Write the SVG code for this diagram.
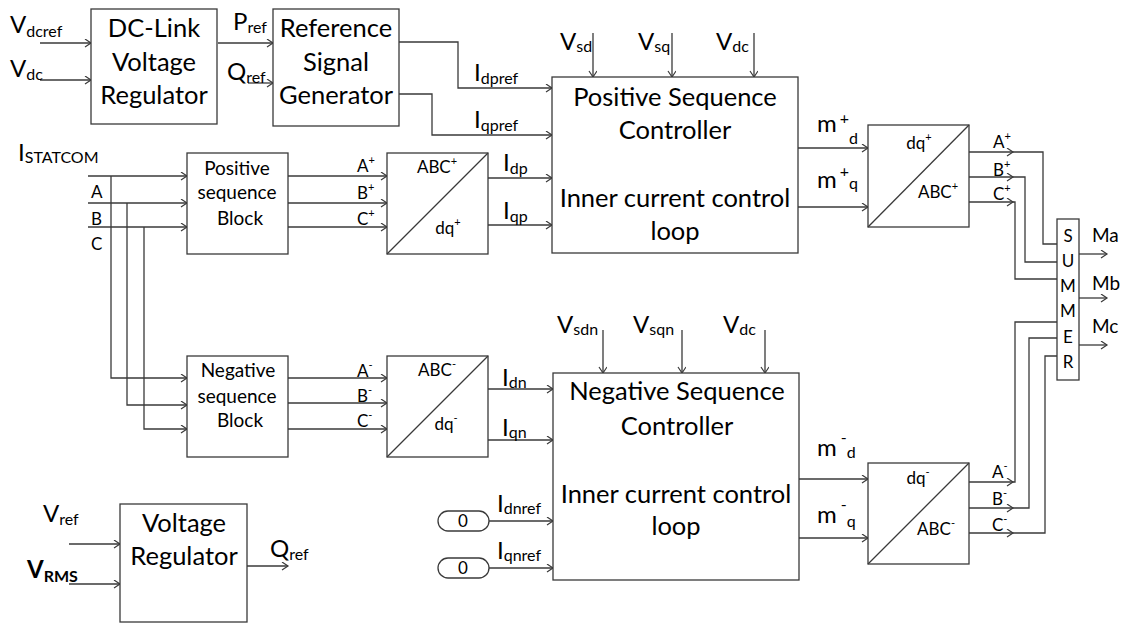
<svg xmlns="http://www.w3.org/2000/svg" width="1130" height="623" viewBox="0 0 1130 623">
<style>
.l{fill:none;stroke:#3a3a3a;stroke-width:1.3}
.a{marker-end:url(#ar)}
.b{fill:#fff;stroke:#3a3a3a;stroke-width:1.3}
text{font-family:Lato,"Liberation Sans",sans-serif;fill:#000}
.big{font-size:25.5px;text-anchor:middle}
.sm{font-size:19px;text-anchor:middle}
.lab{font-size:24px}
.s{font-size:16px}
.k{font-size:17px}
.c{text-anchor:middle}
</style>
<defs>
<marker id="ar" markerUnits="userSpaceOnUse" markerWidth="10" markerHeight="10" refX="7" refY="4" orient="auto">
<path d="M1,0 L7,4 L1,8" fill="none" stroke="#3a3a3a" stroke-width="1.2"/>
</marker>
</defs>
<rect width="1130" height="623" fill="#fff"/>

<g id="connectors">
<path class="l a" d="M40,43 H91"/>
<path class="l a" d="M40,80 H91"/>
<path class="l a" d="M218,43 H273"/>
<path class="l a" d="M248,83 H273"/>
<path class="l a" d="M399,42 H458 V88 H552"/>
<path class="l a" d="M399,94 H432 V135 H552"/>
<path class="l a" d="M593,33 V77"/>
<path class="l a" d="M672,33 V77"/>
<path class="l a" d="M754,33 V77"/>
<path class="l a" d="M88,176 H187"/>
<path class="l a" d="M88,203 H187"/>
<path class="l a" d="M88,227 H187"/>
<path class="l a" d="M111,176 V378 H187"/>
<path class="l a" d="M127,203 V405 H187"/>
<path class="l a" d="M144,227 V429 H187"/>
<path class="l a" d="M288,176 H387"/>
<path class="l a" d="M288,203 H387"/>
<path class="l a" d="M288,227 H387"/>
<path class="l a" d="M288,378 H387"/>
<path class="l a" d="M288,403 H387"/>
<path class="l a" d="M288,429 H387"/>
<path class="l a" d="M488,178 H552"/>
<path class="l a" d="M488,225 H552"/>
<path class="l a" d="M488,389 H553"/>
<path class="l a" d="M488,440 H553"/>
<path class="l a" d="M489,521 H553"/>
<path class="l a" d="M489,568 H553"/>
<path class="l a" d="M603,330 V373"/>
<path class="l a" d="M682,330 V373"/>
<path class="l a" d="M765,330 V373"/>
<path class="l a" d="M798,148 H868"/>
<path class="l a" d="M798,207 H868"/>
<path class="l a" d="M799,479 H868"/>
<path class="l a" d="M799,538 H868"/>
<path class="l a" d="M969,152 H1013"/>
<path class="l" d="M1013,152 H1043 V244 H1057"/>
<path class="l a" d="M969,177 H1013"/>
<path class="l" d="M1013,177 H1025 V262 H1057"/>
<path class="l a" d="M969,202 H1013"/>
<path class="l" d="M1013,202 H1015 V279 H1057"/>
<path class="l a" d="M969,482 H1013"/>
<path class="l" d="M1013,482 H1015 V322 H1057"/>
<path class="l a" d="M969,508 H1013"/>
<path class="l" d="M1013,508 H1029 V338 H1057"/>
<path class="l a" d="M969,533 H1013"/>
<path class="l" d="M1013,533 H1045 V356 H1057"/>
<path class="l a" d="M1079,254 H1107"/>
<path class="l a" d="M1079,298 H1107"/>
<path class="l a" d="M1079,345 H1107"/>
<path class="l a" d="M69,544 H120"/>
<path class="l a" d="M69,584 H120"/>
<path class="l a" d="M247,566 H288"/>
</g>

<g id="labels">
<text class="lab" x="10" y="33">V<tspan class="s" dy="4">dcref</tspan></text>
<text class="lab" x="10" y="77">V<tspan class="s" dy="3">dc</tspan></text>
<text class="lab" x="233" y="30">P<tspan class="s" dy="3">ref</tspan></text>
<text class="lab" x="227" y="80">Q<tspan class="s" dy="3">ref</tspan></text>
<text class="lab" x="474" y="81">I<tspan class="s" dy="3">dpref</tspan></text>
<text class="lab" x="474" y="128">I<tspan class="s" dy="3">qpref</tspan></text>
<text class="lab" x="560" y="50">V<tspan class="s" dy="2">sd</tspan></text>
<text class="lab" x="638" y="50">V<tspan class="s" dy="2">sq</tspan></text>
<text class="lab" x="716" y="50">V<tspan class="s" dy="2">dc</tspan></text>
<text class="lab" x="18" y="161">I<tspan class="s" dy="2">STATCOM</tspan></text>
<text class="k" x="91" y="198">A</text>
<text class="k" x="91" y="225">B</text>
<text class="k" x="91" y="250">C</text>
<text class="k" x="357" y="172">A<tspan font-size="11" dy="-8">+</tspan></text>
<text class="k" x="357" y="199">B<tspan font-size="11" dy="-8">+</tspan></text>
<text class="k" x="357" y="225">C<tspan font-size="11" dy="-8">+</tspan></text>
<text class="k" x="357" y="377">A<tspan font-size="11" dy="-8">-</tspan></text>
<text class="k" x="357" y="402">B<tspan font-size="11" dy="-8">-</tspan></text>
<text class="k" x="357" y="427">C<tspan font-size="11" dy="-8">-</tspan></text>
<text class="lab" x="503" y="171">I<tspan class="s" dy="3">dp</tspan></text>
<text class="lab" x="503" y="219">I<tspan class="s" dy="3">qp</tspan></text>
<text class="lab" x="502" y="386">I<tspan class="s" dy="2">dn</tspan></text>
<text class="lab" x="502" y="436">I<tspan class="s" dy="2">qn</tspan></text>
<text class="lab" x="497" y="512">I<tspan class="s" dy="2">dnref</tspan></text>
<text class="lab" x="497" y="559">I<tspan class="s" dy="2">qnref</tspan></text>
<text class="lab" x="557" y="333">V<tspan class="s" dy="2">sdn</tspan></text>
<text class="lab" x="633" y="333">V<tspan class="s" dy="2">sqn</tspan></text>
<text class="lab" x="723" y="333">V<tspan class="s" dy="2">dc</tspan></text>
<text class="lab" x="817" y="132">m<tspan class="s" dx="3" dy="-8">+</tspan><tspan class="s" dy="20">d</tspan></text>
<text class="lab" x="817" y="188">m<tspan class="s" dx="3" dy="-11">+</tspan><tspan class="s" dy="12">q</tspan></text>
<text class="lab" x="817" y="456">m<tspan class="s" dx="4" dy="-13">-</tspan><tspan class="s" dy="15">d</tspan></text>
<text class="lab" x="817" y="523">m<tspan class="s" dx="4" dy="-13">-</tspan><tspan class="s" dy="17">q</tspan></text>
<text class="k" x="993" y="148">A<tspan font-size="11" dy="-8">+</tspan></text>
<text class="k" x="993" y="176">B<tspan font-size="11" dy="-8">+</tspan></text>
<text class="k" x="993" y="200">C<tspan font-size="11" dy="-8">+</tspan></text>
<text class="k" x="992" y="478">A<tspan font-size="11" dy="-8">-</tspan></text>
<text class="k" x="992" y="505">B<tspan font-size="11" dy="-8">-</tspan></text>
<text class="k" x="992" y="531">C<tspan font-size="11" dy="-8">-</tspan></text>
<text font-size="19" x="1092" y="242">Ma</text>
<text font-size="19" x="1092" y="290">Mb</text>
<text font-size="19" x="1092" y="333">Mc</text>
<text class="lab" x="43" y="522">V<tspan class="s" dy="3">ref</tspan></text>
<text class="lab" x="27" y="578" font-weight="bold">V<tspan class="s" dy="4">RMS</tspan></text>
<text class="lab" x="270" y="557">Q<tspan class="s" dy="3">ref</tspan></text>
</g>

<g id="dclink">
<rect class="b" x="91" y="9" width="126" height="115"/>
<text class="big" x="154" y="37">DC-Link</text>
<text class="big" x="154" y="71">Voltage</text>
<text class="big" x="154" y="104">Regulator</text>
</g>
<g id="refgen">
<rect class="b" x="273" y="9" width="126" height="117"/>
<text class="big" x="336" y="37">Reference</text>
<text class="big" x="336" y="71">Signal</text>
<text class="big" x="336" y="104">Generator</text>
</g>
<g id="psc">
<rect class="b" x="552" y="77" width="246" height="176"/>
<text class="big" x="675" y="106">Positive Sequence</text>
<text class="big" x="675" y="139">Controller</text>
<text class="big" x="675" y="207">Inner current control</text>
<text class="big" x="675" y="240">loop</text>
</g>
<g id="posblk">
<rect class="b" x="187" y="153" width="101" height="101"/>
<text class="sm" x="237" y="175">Positive</text>
<text class="sm" x="237" y="199">sequence</text>
<text class="sm" x="240" y="225">Block</text>
</g>
<g id="abcdqp">
<rect class="b" x="387" y="153" width="101" height="101"/>
<path class="l" d="M387,254 L488,153"/>
<text class="k c" x="437" y="173">ABC<tspan font-size="11" dy="-8">+</tspan></text>
<text class="k c" x="448" y="234">dq<tspan font-size="11" dy="-8">+</tspan></text>
</g>
<g id="negblk">
<rect class="b" x="187" y="356" width="101" height="101"/>
<text class="sm" x="238" y="377">Negative</text>
<text class="sm" x="237" y="403">sequence</text>
<text class="sm" x="240" y="427">Block</text>
</g>
<g id="abcdqn">
<rect class="b" x="387" y="356" width="101" height="101"/>
<path class="l" d="M387,457 L488,356"/>
<text class="k c" x="437" y="376">ABC<tspan font-size="11" dy="-8">-</tspan></text>
<text class="k c" x="446" y="430">dq<tspan font-size="11" dy="-8">-</tspan></text>
</g>
<g id="nsc">
<rect class="b" x="553" y="373" width="246" height="207"/>
<text class="big" x="677" y="400">Negative Sequence</text>
<text class="big" x="677" y="435">Controller</text>
<text class="big" x="676" y="503">Inner current control</text>
<text class="big" x="676" y="535">loop</text>
</g>
<g id="dqabcp">
<rect class="b" x="868" y="125" width="101" height="102"/>
<path class="l" d="M868,227 L969,125"/>
<text class="k c" x="919" y="149">dq<tspan font-size="11" dy="-8">+</tspan></text>
<text class="k c" x="938" y="198">ABC<tspan font-size="11" dy="-8">+</tspan></text>
</g>
<g id="dqabcn">
<rect class="b" x="868" y="463" width="101" height="101"/>
<path class="l" d="M868,564 L969,463"/>
<text class="k c" x="918" y="484">dq<tspan font-size="11" dy="-8">-</tspan></text>
<text class="k c" x="936" y="535">ABC<tspan font-size="11" dy="-8">-</tspan></text>
</g>
<g id="summer">
<rect class="b" x="1057" y="219" width="22" height="161"/>
<text class="k c" x="1068" y="242">S</text>
<text class="k c" x="1068" y="267">U</text>
<text class="k c" x="1068" y="292">M</text>
<text class="k c" x="1068" y="317">M</text>
<text class="k c" x="1068" y="343">E</text>
<text class="k c" x="1068" y="368">R</text>
</g>
<g id="vreg">
<rect class="b" x="120" y="504" width="127" height="118"/>
<text class="big" x="184" y="532">Voltage</text>
<text class="big" x="184" y="565">Regulator</text>
</g>
<g id="zero1">
<rect class="b" x="438" y="511" width="51" height="20" rx="10"/>
<text class="k c" x="463" y="527">0</text>
</g>
<g id="zero2">
<rect class="b" x="438" y="558" width="51" height="20" rx="10"/>
<text class="k c" x="463" y="574">0</text>
</g>
</svg>
